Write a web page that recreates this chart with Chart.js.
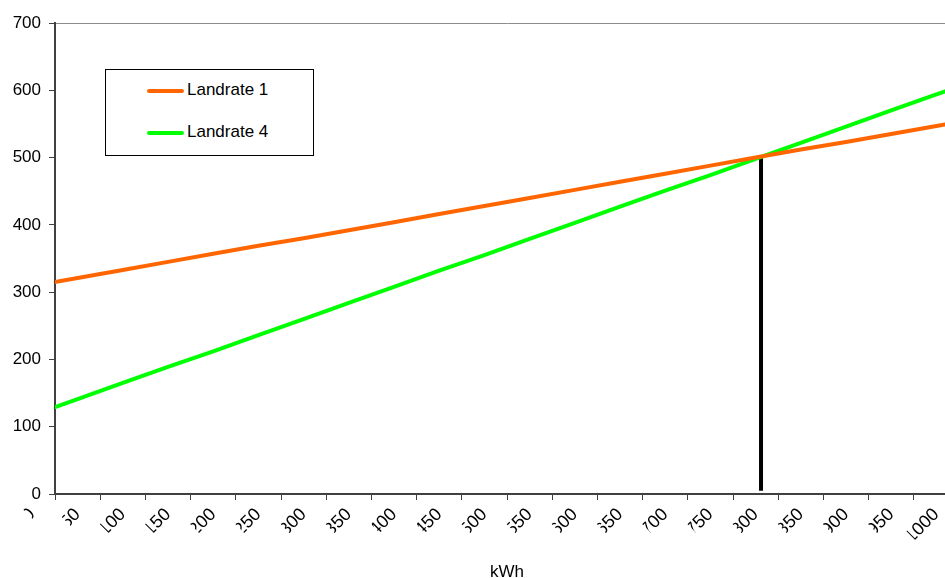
<!DOCTYPE html>
<html>
<head>
<meta charset="utf-8">
<script src="https://cdn.jsdelivr.net/npm/chart.js@4"></script>
<style>
  html, body { margin: 0; padding: 0; background: #fff; overflow: hidden; }
  #wrap { position: relative; width: 962px; height: 578px; }
  #legend {
    position: absolute; left: 105px; top: 69px; width: 207px; height: 85px;
    border: 1px solid #000; background: #fff;
    font-family: "Liberation Sans", Arial, sans-serif; font-size: 17px; color: #000;
  }
  #legend .item { position: absolute; left: 41px; height: 20px; line-height: 20px; }
  #legend .swatch { display: inline-block; width: 37px; height: 4px; vertical-align: middle; margin-right: 3px; border-radius: 2px; }
</style>
</head>
<body>
<div id="wrap">
  <canvas id="chart" width="962" height="578"></canvas>
  <div id="legend"></div>
</div>
<script>
// kWh categories and monthly cost per tariff (last one runs past the right edge)
const kwh = [0, 50, 100, 150, 200, 250, 300, 350, 400, 450, 500, 550, 600, 650, 700, 750, 800, 850, 900, 950, 1000, 1050];
const landrate1 = [309, 321, 333, 345, 357, 369, 380, 392, 404, 416, 428, 440, 452, 464, 476, 488, 500, 512, 523, 535, 547, 559];
const landrate4 = [117, 141, 165, 189, 212, 236, 260, 284, 308, 332, 355, 379, 403, 427, 451, 474, 498, 522, 546, 570, 594, 617];
// break-even marker
const markerX = [806, 806];
const markerY = [5, 502];
const yTicks = [0, 100, 200, 300, 400, 500, 600, 700];

const FONT = "'Liberation Sans', Arial, sans-serif";
const half = 25; // half a category width in kWh

function pts(xs, ys) { return xs.map((x, i) => ({ x: x, y: ys[i] })); }

// draw the rotated x labels, the first glyph cut off like in the original
const clipLabels = {
  id: 'clipLabels',
  afterDraw(chart) {
    const sx = chart.scales.x;
    const ctx = chart.ctx;
    sx.getLabelItems().forEach(it => {
      const o = it.options;
      ctx.save();
      ctx.translate(o.translation[0], o.translation[1]);
      ctx.rotate(o.rotation);
      ctx.font = it.font.string;
      const w = ctx.measureText(it.label).width;
      ctx.beginPath();
      ctx.rect(-w + 5, -30, w + 10, 60);
      ctx.clip();
      ctx.fillStyle = '#000';
      ctx.textAlign = o.textAlign;
      ctx.textBaseline = o.textBaseline;
      ctx.fillText(it.label, 0, it.textOffset);
      ctx.restore();
    });
  }
};

const chart = new Chart(document.getElementById('chart').getContext('2d'), {
  type: 'line',
  data: {
    datasets: [
      { label: 'Landrate 1', data: pts(kwh, landrate1), borderColor: '#FF6600', borderWidth: 4, pointRadius: 0, tension: 0 },
      { label: 'Landrate 4', data: pts(kwh, landrate4), borderColor: '#00FF00', borderWidth: 4, pointRadius: 0, tension: 0 },
      { label: '', data: pts(markerX, markerY), borderColor: '#000000', borderWidth: 4, pointRadius: 0, borderCapStyle: 'butt' }
    ]
  },
  options: {
    responsive: false,
    animation: false,
    layout: { padding: { top: 23, right: 3, left: 0, bottom: 0 } },
    plugins: { legend: { display: false }, tooltip: { enabled: false } },
    scales: {
      x: {
        type: 'linear',
        min: kwh[0] + half,
        max: 1025,
        afterBuildTicks: s => { s.ticks = kwh.filter(v => v + half <= s.max).map(v => ({ value: v + half })); },
        afterFit: s => { s.height = 84; s.paddingRight = 0; s.paddingLeft = 0; },
        grid: { drawOnChartArea: false, tickLength: 6, color: '#404040', tickWidth: 1 },
        border: { color: '#404040', width: 2 },
        ticks: {
          autoSkip: false, minRotation: 45, maxRotation: 45, padding: 4,
          labelOffset: -22.6,
          color: 'rgba(0,0,0,0)',
          font: { family: FONT, size: 18 },
          callback: (v, i) => String(kwh[i])
        },
        title: { display: true, text: 'kWh', color: '#000', font: { family: FONT, size: 17, lineHeight: 1 }, padding: { top: 0, bottom: -3 } }
      },
      y: {
        min: 0, max: 700,
        afterBuildTicks: s => { s.ticks = yTicks.map(v => ({ value: v })); },
        afterFit: s => { s.width = 55; },
        grid: {
          drawOnChartArea: true, tickLength: 6,
          color: c => (c.tick && c.tick.value === 700 ? '#8c8c8c' : 'rgba(0,0,0,0)'),
          tickColor: '#404040'
        },
        border: { color: '#404040', width: 2 },
        ticks: { color: '#000', padding: 8, font: { family: FONT, size: 17 } }
      }
    }
  },
  plugins: [clipLabels]
});

// legend built from the datasets
const legend = document.getElementById('legend');
chart.data.datasets.filter(d => d.label).forEach((d, i) => {
  const el = document.createElement('div');
  el.className = 'item';
  el.style.top = (10 + i * 42) + 'px';
  el.innerHTML = '<span class="swatch" style="background:' + d.borderColor + '"></span>' + d.label;
  legend.appendChild(el);
});
</script>
</body>
</html>
